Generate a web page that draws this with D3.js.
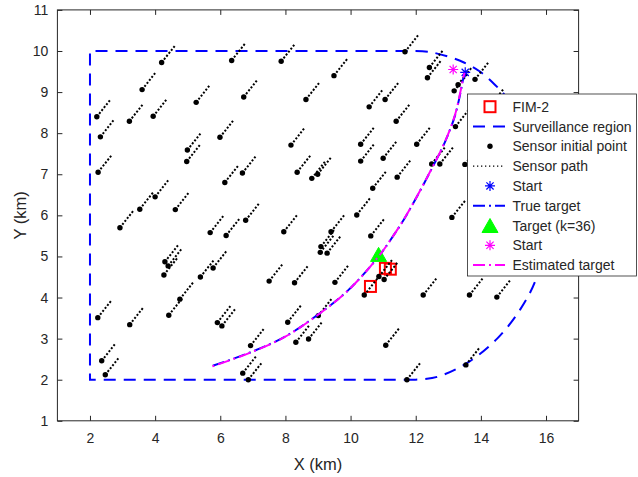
<!doctype html>
<html>
<head>
<meta charset="utf-8">
<title>Sensor paths and target track</title>
<script src="https://d3js.org/d3.v7.min.js"></script>
<style>
  body { margin: 0; background: #fff; }
  text { font-family: "Liberation Sans", Arial, Helvetica, sans-serif; fill: #262626; }
  .axis path { display: none; }
  .axis line { stroke: #262626; stroke-width: 1; }
</style>
</head>
<body>
<script>
// sensor initial points (km)
var sensorX = [4.20, 6.35, 7.87, 3.60, 6.72, 5.26, 8.63, 2.21, 3.21, 3.94,
  2.32, 5.99, 8.17, 4.99, 4.97, 2.25, 6.68, 6.14, 8.36, 8.81,
  8.99, 4.00, 3.53, 4.62, 2.92, 5.69, 6.18, 6.78, 7.95, 4.30,
  4.40, 4.27, 5.78, 5.39, 4.76, 4.42, 7.50, 8.28, 2.24, 3.22,
  5.91, 6.05, 8.07, 6.93, 2.36, 2.47, 6.69, 6.86, 8.32, 8.71,
  11.67, 12.42, 12.36, 9.49, 10.57, 11.06, 11.40, 13.22, 10.31, 12.03,
  10.31, 11.00, 12.49, 12.74, 13.51, 11.43, 10.68, 10.19, 13.11, 10.62,
  9.09, 9.07, 9.28, 9.40, 9.52, 10.42, 10.87, 11.03, 12.23, 13.65,
  14.49, 11.08, 13.54, 11.73, 9.01, 13.18, 13.30, 13.82, 14.28];
var sensorY = [9.72, 9.77, 9.75, 9.06, 8.88, 8.75, 8.82, 8.40, 8.29, 8.41,
  7.91, 7.90, 7.71, 7.59, 7.31, 7.05, 7.03, 6.80, 7.05, 6.90,
  7.00, 6.45, 6.15, 6.14, 5.70, 5.58, 5.51, 5.88, 5.60, 4.87,
  4.77, 4.55, 4.72, 4.50, 3.96, 3.57, 4.40, 4.36, 3.51, 3.34,
  3.39, 3.31, 3.40, 2.83, 2.46, 2.12, 2.16, 2.00, 2.91, 2.99,
  9.98, 9.60, 9.35, 9.40, 8.64, 8.82, 8.29, 8.16, 7.73, 7.73,
  7.32, 7.39, 7.25, 7.25, 7.24, 6.93, 6.66, 6.01, 5.95, 5.50,
  5.24, 5.10, 5.08, 5.60, 4.37, 4.06, 4.51, 4.44, 4.06, 4.06,
  4.01, 2.84, 2.36, 2.00, 3.56, 9.03, 9.18, 9.31, 8.66];
// displacement of every sensor along its path (km)
var pathDx = 0.41, pathDy = 0.41;

// surveillance region: straight sides, then the rounded right side
var regionSideX = [12, 2, 2, 12];
var regionSideY = [2, 2, 10, 10];
var regionArcX = [12, 12.40, 13.01, 13.48, 13.97, 14.43, 14.83, 15.45, 15.83, 16.0, 15.83, 15.66, 15.2, 14.5, 13.58, 12.66, 12];
var regionArcY = [10, 9.98, 9.86, 9.72, 9.50, 9.18, 8.83, 8.00, 7.10, 6.0, 4.90, 4.38, 3.70, 3.00, 2.41, 2.07, 2];

// target tracks (from start at top to the end at bottom left)
var trueX = [13.53, 13.46, 13.38, 13.21, 12.90, 12.39, 11.72, 11.36, 10.85, 9.93, 9.01, 7.99, 6.97, 5.74];
var trueY = [9.50, 9.33, 9.01, 8.44, 7.79, 6.98, 6.01, 5.56, 4.99, 4.18, 3.59, 3.05, 2.68, 2.33];
var estX = [13.50, 13.45, 13.37, 13.20, 12.89, 12.38, 11.71, 11.35, 10.84, 9.92, 9.00, 7.98, 6.96, 5.74];
var estY = [9.47, 9.32, 9.00, 8.43, 7.78, 6.97, 6.00, 5.55, 4.98, 4.17, 3.58, 3.04, 2.67, 2.32];

var trueStart = [13.52, 9.48];
var estStart = [13.15, 9.55];
var targetK36 = [10.86, 5.05];
var fimX = [10.61, 11.07, 11.22];
var fimY = [4.27, 4.71, 4.69];

var xTicks = [2, 4, 6, 8, 10, 12, 14, 16];
var yTicks = [1, 2, 3, 4, 5, 6, 7, 8, 9, 10, 11];
var legendLabels = ["FIM-2", "Surveillance region", "Sensor initial point", "Sensor path",
  "Start", "True target", "Target (k=36)", "Start", "Estimated target"];

var w = 638, h = 477;
var padL = 57.4, padT = 9.9, padR = 578.6, padB = 420.8;

var svg = d3.select("body")
  .append("svg")
  .attr("width", w)
  .attr("height", h);

var x = d3.scaleLinear().domain([1, 17]).range([padL, padR]);
var y = d3.scaleLinear().domain([1, 11]).range([padB, padT]);

var lineXY = d3.line()
  .x(function(d) { return x(d[0]); })
  .y(function(d) { return y(d[1]); });
var curveXY = d3.line()
  .x(function(d) { return x(d[0]); })
  .y(function(d) { return y(d[1]); })
  .curve(d3.curveCatmullRom);

function zip(a, b) {
  return a.map(function(v, i) { return [v, b[i]]; });
}

function starPath(r) {
  var a = r * 0.72;
  return "M0," + (-r) + "V" + r + "M" + (-r) + ",0H" + r +
    "M" + (-a) + "," + (-a) + "L" + a + "," + a +
    "M" + (-a) + "," + a + "L" + a + "," + (-a);
}
var trianglePath = "M0,-7L8,7L-8,7Z";

var plot = svg.append("g");

// red squares (FIM-2)
plot.selectAll("rect.fim")
  .data(zip(fimX, fimY))
  .enter().append("rect")
  .attr("class", "fim")
  .attr("x", function(d) { return x(d[0]) - 5.5; })
  .attr("y", function(d) { return y(d[1]) - 5.5; })
  .attr("width", 11)
  .attr("height", 11)
  .attr("fill", "none")
  .attr("stroke", "#ff0000")
  .attr("stroke-width", 2);

// surveillance region
plot.append("path")
  .attr("d", lineXY(zip(regionSideX, regionSideY)) + curveXY(zip(regionArcX, regionArcY)))
  .attr("fill", "none")
  .attr("stroke", "#0000ff")
  .attr("stroke-width", 2)
  .attr("stroke-dasharray", "12,8");

// sensor paths
plot.selectAll("line.spath")
  .data(zip(sensorX, sensorY))
  .enter().append("line")
  .attr("class", "spath")
  .attr("x1", function(d) { return x(d[0]); })
  .attr("y1", function(d) { return y(d[1]); })
  .attr("x2", function(d) { return x(d[0] + pathDx); })
  .attr("y2", function(d) { return y(d[1] + pathDy); })
  .attr("stroke", "#000")
  .attr("stroke-width", 2)
  .attr("stroke-dasharray", "2,1.8");

// sensor initial points
plot.selectAll("circle.sensor")
  .data(zip(sensorX, sensorY))
  .enter().append("circle")
  .attr("class", "sensor")
  .attr("cx", function(d) { return x(d[0]); })
  .attr("cy", function(d) { return y(d[1]); })
  .attr("r", 2.7)
  .attr("fill", "#000");

// true target
plot.append("path")
  .attr("d", curveXY(zip(trueX, trueY)))
  .attr("fill", "none")
  .attr("stroke", "#0000ff")
  .attr("stroke-width", 2)
  .attr("stroke-dasharray", "12,4,2,4");

plot.append("path")
  .attr("d", starPath(5))
  .attr("transform", "translate(" + x(trueStart[0]) + "," + y(trueStart[1]) + ")")
  .attr("stroke", "#0000ff")
  .attr("stroke-width", 1.2)
  .attr("fill", "none");

plot.append("path")
  .attr("d", trianglePath)
  .attr("transform", "translate(" + x(targetK36[0]) + "," + y(targetK36[1]) + ")")
  .attr("fill", "#00ff00")
  .attr("stroke", "#00ff00")
  .attr("stroke-width", 1);

plot.append("path")
  .attr("d", starPath(5))
  .attr("transform", "translate(" + x(estStart[0]) + "," + y(estStart[1]) + ")")
  .attr("stroke", "#ff00ff")
  .attr("stroke-width", 1.2)
  .attr("fill", "none");

// estimated target
plot.append("path")
  .attr("d", curveXY(zip(estX, estY)))
  .attr("fill", "none")
  .attr("stroke", "#ff00ff")
  .attr("stroke-width", 2)
  .attr("stroke-dasharray", "12,4,2,4")
  .attr("stroke-dashoffset", 7);

// axes, ticks inside on all four sides
svg.append("g")
  .attr("class", "axis")
  .attr("transform", "translate(0," + padB + ")")
  .call(d3.axisBottom(x).tickValues(xTicks).tickSize(-5).tickPadding(12))
  .selectAll("text").style("font-size", "14px").attr("fill", "#262626");
svg.append("g")
  .attr("class", "axis")
  .attr("transform", "translate(0," + padT + ")")
  .call(d3.axisTop(x).tickValues(xTicks).tickSize(-5).tickFormat(""));
svg.append("g")
  .attr("class", "axis")
  .attr("transform", "translate(" + padL + ",0)")
  .call(d3.axisLeft(y).tickValues(yTicks).tickSize(-5).tickPadding(9))
  .selectAll("text").style("font-size", "14px").attr("fill", "#262626");
svg.append("g")
  .attr("class", "axis")
  .attr("transform", "translate(" + padR + ",0)")
  .call(d3.axisRight(y).tickValues(yTicks).tickSize(-5).tickFormat(""));

svg.append("rect")
  .attr("x", padL)
  .attr("y", padT)
  .attr("width", padR - padL)
  .attr("height", padB - padT)
  .attr("fill", "none")
  .attr("stroke", "#262626")
  .attr("stroke-width", 1);

svg.append("text")
  .attr("x", (padL + padR) / 2)
  .attr("y", 470)
  .attr("text-anchor", "middle")
  .style("font-size", "16.5px")
  .text("X (km)");

svg.append("text")
  .attr("transform", "translate(26," + (padT + padB) / 2 + ") rotate(-90)")
  .attr("text-anchor", "middle")
  .style("font-size", "16.5px")
  .text("Y (km)");

// legend
var lg = svg.append("g");
var lgX = 467.5, lgY = 94, lgW = 169, lgH = 182, rowH = 19.8;
lg.append("rect")
  .attr("x", lgX)
  .attr("y", lgY)
  .attr("width", lgW)
  .attr("height", lgH)
  .attr("fill", "#fff")
  .attr("stroke", "#262626")
  .attr("stroke-width", 0.8);

var sx1 = 473, sx2 = 505, mx = 490;
function rowY(i) { return lgY + 12.7 + i * rowH; }

lg.append("rect")
  .attr("x", mx - 5.5).attr("y", rowY(0) - 5.5)
  .attr("width", 11).attr("height", 11)
  .attr("fill", "none").attr("stroke", "#ff0000").attr("stroke-width", 2);
lg.append("line")
  .attr("x1", sx1).attr("x2", sx2).attr("y1", rowY(1)).attr("y2", rowY(1))
  .attr("stroke", "#0000ff").attr("stroke-width", 2).attr("stroke-dasharray", "12,8");
lg.append("circle")
  .attr("cx", mx).attr("cy", rowY(2)).attr("r", 2.7).attr("fill", "#000");
lg.append("line")
  .attr("x1", sx1).attr("x2", sx2).attr("y1", rowY(3)).attr("y2", rowY(3))
  .attr("stroke", "#000").attr("stroke-width", 1.3).attr("stroke-dasharray", "1.3,2.7");
lg.append("path")
  .attr("d", starPath(5))
  .attr("transform", "translate(" + mx + "," + rowY(4) + ")")
  .attr("stroke", "#0000ff").attr("stroke-width", 1.2).attr("fill", "none");
lg.append("line")
  .attr("x1", sx1).attr("x2", sx2).attr("y1", rowY(5)).attr("y2", rowY(5))
  .attr("stroke", "#0000ff").attr("stroke-width", 2).attr("stroke-dasharray", "12,4,2,4");
lg.append("path")
  .attr("d", trianglePath)
  .attr("transform", "translate(" + mx + "," + rowY(6) + ")")
  .attr("fill", "#00ff00").attr("stroke", "#00ff00").attr("stroke-width", 1);
lg.append("path")
  .attr("d", starPath(5))
  .attr("transform", "translate(" + mx + "," + rowY(7) + ")")
  .attr("stroke", "#ff00ff").attr("stroke-width", 1.2).attr("fill", "none");
lg.append("line")
  .attr("x1", sx1).attr("x2", sx2).attr("y1", rowY(8)).attr("y2", rowY(8))
  .attr("stroke", "#ff00ff").attr("stroke-width", 2).attr("stroke-dasharray", "12,4,2,4");

lg.selectAll("text.lab")
  .data(legendLabels)
  .enter().append("text")
  .attr("class", "lab")
  .attr("x", 512.5)
  .attr("y", function(d, i) { return rowY(i) + 5; })
  .style("font-size", "14px")
  .text(function(d) { return d; });
</script>
</body>
</html>
